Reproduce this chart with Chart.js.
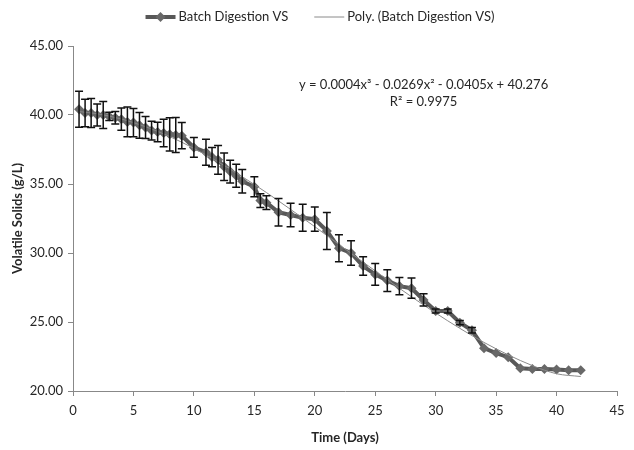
<!DOCTYPE html>
<html>
<head>
<meta charset="utf-8">
<script src="https://cdn.jsdelivr.net/npm/chart.js@4.4.1/dist/chart.umd.min.js"></script>
<style>
  html, body { margin: 0; padding: 0; background: #fff; }
</style>
</head>
<body>
<canvas id="chart" width="634" height="450"></canvas>
<script>
// Batch digestion, volatile solids over time
const days = [0.5, 1, 1.5, 2, 2.5, 3, 3.5, 4, 4.5, 5, 5.5, 6, 6.5, 7, 7.5, 8, 8.5, 9,
  10, 11, 11.5, 12, 12.5, 13, 13.5, 14, 15, 15.5, 16,
  17, 18, 19, 20, 21, 22, 23, 24, 25, 26, 27, 28, 29, 30, 31, 32, 33, 34, 35, 36, 37, 38, 39, 40, 41, 42];

const vs = [40.42, 40.14, 40.14, 40.0, 40.0, 39.9, 39.8, 39.7, 39.5, 39.45, 39.25, 39.1, 38.87, 38.77, 38.7, 38.6, 38.55, 38.5,
  37.65, 37.3, 36.95, 36.75, 36.25, 35.9, 35.6, 35.2, 34.8, 33.8, 33.65,
  32.95, 32.75, 32.55, 32.45, 31.6, 30.35, 30.0, 29.05, 28.45, 28.0, 27.6, 27.45, 26.6, 25.8, 25.8, 24.95, 24.4,
  23.1, 22.75, 22.45, 21.65, 21.6, 21.6, 21.55, 21.5, 21.5];

const vsError = [1.3, 1.0, 1.05, 0.8, 0.98, 0.3, 0.45, 0.8, 1.08, 1.03, 0.94, 0.8, 0.68, 0.7, 1.0, 1.2, 1.27, 0.95,
  0.72, 0.94, 0.7, 1.04, 1.0, 0.83, 0.83, 0.85, 0.73, 0.5, 0.5,
  1.0, 0.85, 0.98, 0.88, 1.34, 0.98, 0.88, 0.67, 0.79, 0.79, 0.63, 0.73, 0.44, 0.15, 0.15, 0.15, 0.2,
  0, 0, 0, 0, 0, 0, 0, 0, 0];

// polynomial trend line as drawn in the figure
const trendDays = [0.5, 2, 4, 6, 8, 10, 12, 14, 16, 18, 20, 22, 24, 26, 28, 30, 32, 34, 36, 38, 40, 42];
const trendVs = [40.25, 40.09, 39.71, 39.15, 38.44, 37.58, 36.61, 35.53, 34.38, 33.16, 31.91, 30.62,
  29.34, 28.07, 26.83, 25.65, 24.54, 23.52, 22.62, 21.84, 21.25, 21.05];

const seriesNames = ["Batch Digestion VS", "Poly. (Batch Digestion VS)"];
const equation = ["y = 0.0004x\u00b3 - 0.0269x\u00b2 - 0.0405x + 40.276", "R\u00b2 = 0.9975"];

const FONT = "Lato, sans-serif";
const TEXT = "#262626";
const LINE = "#585858";
const MARKER = "#686868";
const TREND = "#8a8a8a";

function diamond(ctx, x, y, r) {
  ctx.beginPath();
  ctx.moveTo(x, y - r);
  ctx.lineTo(x + r, y);
  ctx.lineTo(x, y + r);
  ctx.lineTo(x - r, y);
  ctx.closePath();
  ctx.fill();
}

// legend drawn in the top padding, the way the spreadsheet lays it out
const topLegend = {
  id: "topLegend",
  afterDraw(chart) {
    const ctx = chart.ctx;
    ctx.save();
    ctx.font = "13px " + FONT;
    ctx.textBaseline = "middle";
    const icon = 30, gap = 3, between = 26, cy = 17;
    const widths = seriesNames.map((t) => icon + gap + ctx.measureText(t).width);
    let x = 320 - (widths[0] + widths[1] + between) / 2;
    seriesNames.forEach((name, i) => {
      ctx.strokeStyle = i === 0 ? LINE : TREND;
      ctx.lineWidth = i === 0 ? 4 : 1;
      ctx.beginPath();
      ctx.moveTo(x, cy);
      ctx.lineTo(x + icon, cy);
      ctx.stroke();
      if (i === 0) {
        ctx.fillStyle = MARKER;
        diamond(ctx, x + icon / 2, cy, 5);
      }
      ctx.fillStyle = TEXT;
      ctx.fillText(name, x + icon + gap, cy);
      x += widths[i] + between;
    });
    ctx.restore();
  }
};

const errorBars = {
  id: "errorBars",
  afterDatasetsDraw(chart) {
    const {ctx, scales: {x, y}} = chart;
    ctx.save();
    ctx.strokeStyle = "#111";
    ctx.lineWidth = 1.5;
    days.forEach((d, i) => {
      if (!vsError[i]) return;
      const px = x.getPixelForValue(d);
      const top = y.getPixelForValue(vs[i] + vsError[i]);
      const bot = y.getPixelForValue(vs[i] - vsError[i]);
      ctx.beginPath();
      ctx.moveTo(px, top);
      ctx.lineTo(px, bot);
      ctx.moveTo(px - 4, top);
      ctx.lineTo(px + 4, top);
      ctx.moveTo(px - 4, bot);
      ctx.lineTo(px + 4, bot);
      ctx.stroke();
    });
    ctx.restore();
  }
};

const equationLabel = {
  id: "equationLabel",
  afterDraw(chart) {
    const {ctx, scales: {x, y}} = chart;
    ctx.save();
    ctx.font = "13px " + FONT;
    ctx.fillStyle = TEXT;
    ctx.textAlign = "center";
    ctx.textBaseline = "middle";
    const cx = x.getPixelForValue(29);
    const cy = y.getPixelForValue(42.2);
    equation.forEach((line, i) => ctx.fillText(line, cx, cy + i * 17));
    ctx.restore();
  }
};

const data = {
  datasets: [
    {
      label: seriesNames[0],
      data: days.map((d, i) => ({x: d, y: vs[i]})),
      borderColor: LINE,
      backgroundColor: MARKER,
      borderWidth: 4,
      pointStyle: "rectRot",
      pointRadius: 5,
      pointBorderWidth: 0,
      tension: 0,
      order: 1
    },
    {
      label: seriesNames[1],
      data: trendDays.map((d, i) => ({x: d, y: trendVs[i]})),
      borderColor: TREND,
      borderWidth: 1,
      pointRadius: 0,
      cubicInterpolationMode: "monotone",
      order: 0
    }
  ]
};

const config = {
  type: "line",
  data: data,
  plugins: [errorBars, equationLabel, topLegend],
  options: {
    responsive: false,
    animation: false,
    layout: {
      padding: {left: 0, right: 17, top: 46, bottom: 0}
    },
    plugins: {
      tooltip: {enabled: false},
      legend: {display: false}
    },
    scales: {
      x: {
        type: "linear",
        min: 0,
        max: 45,
        afterFit: (s) => { s.height = 59; },
        ticks: {stepSize: 5, color: TEXT, padding: 7, font: {family: FONT, size: 13}},
        grid: {drawOnChartArea: false, tickLength: 5, color: "#888"},
        border: {color: "#888"},
        title: {display: true, text: "Time (Days)", color: TEXT, font: {family: FONT, size: 13, weight: "bold"}}
      },
      y: {
        min: 20,
        max: 45,
        afterFit: (s) => { s.width = 73; },
        ticks: {stepSize: 5, color: TEXT, padding: 5, font: {family: FONT, size: 13},
          callback: (v) => v.toFixed(2)},
        grid: {drawOnChartArea: false, tickLength: 5, color: "#888"},
        border: {color: "#888"},
        title: {display: true, text: "Volatile Solids (g/L)", color: TEXT, padding: {top: 10, bottom: 0},
          font: {family: FONT, size: 13, weight: "bold"}}
      }
    }
  }
};

new Chart(document.getElementById("chart"), config);
</script>
</body>
</html>
